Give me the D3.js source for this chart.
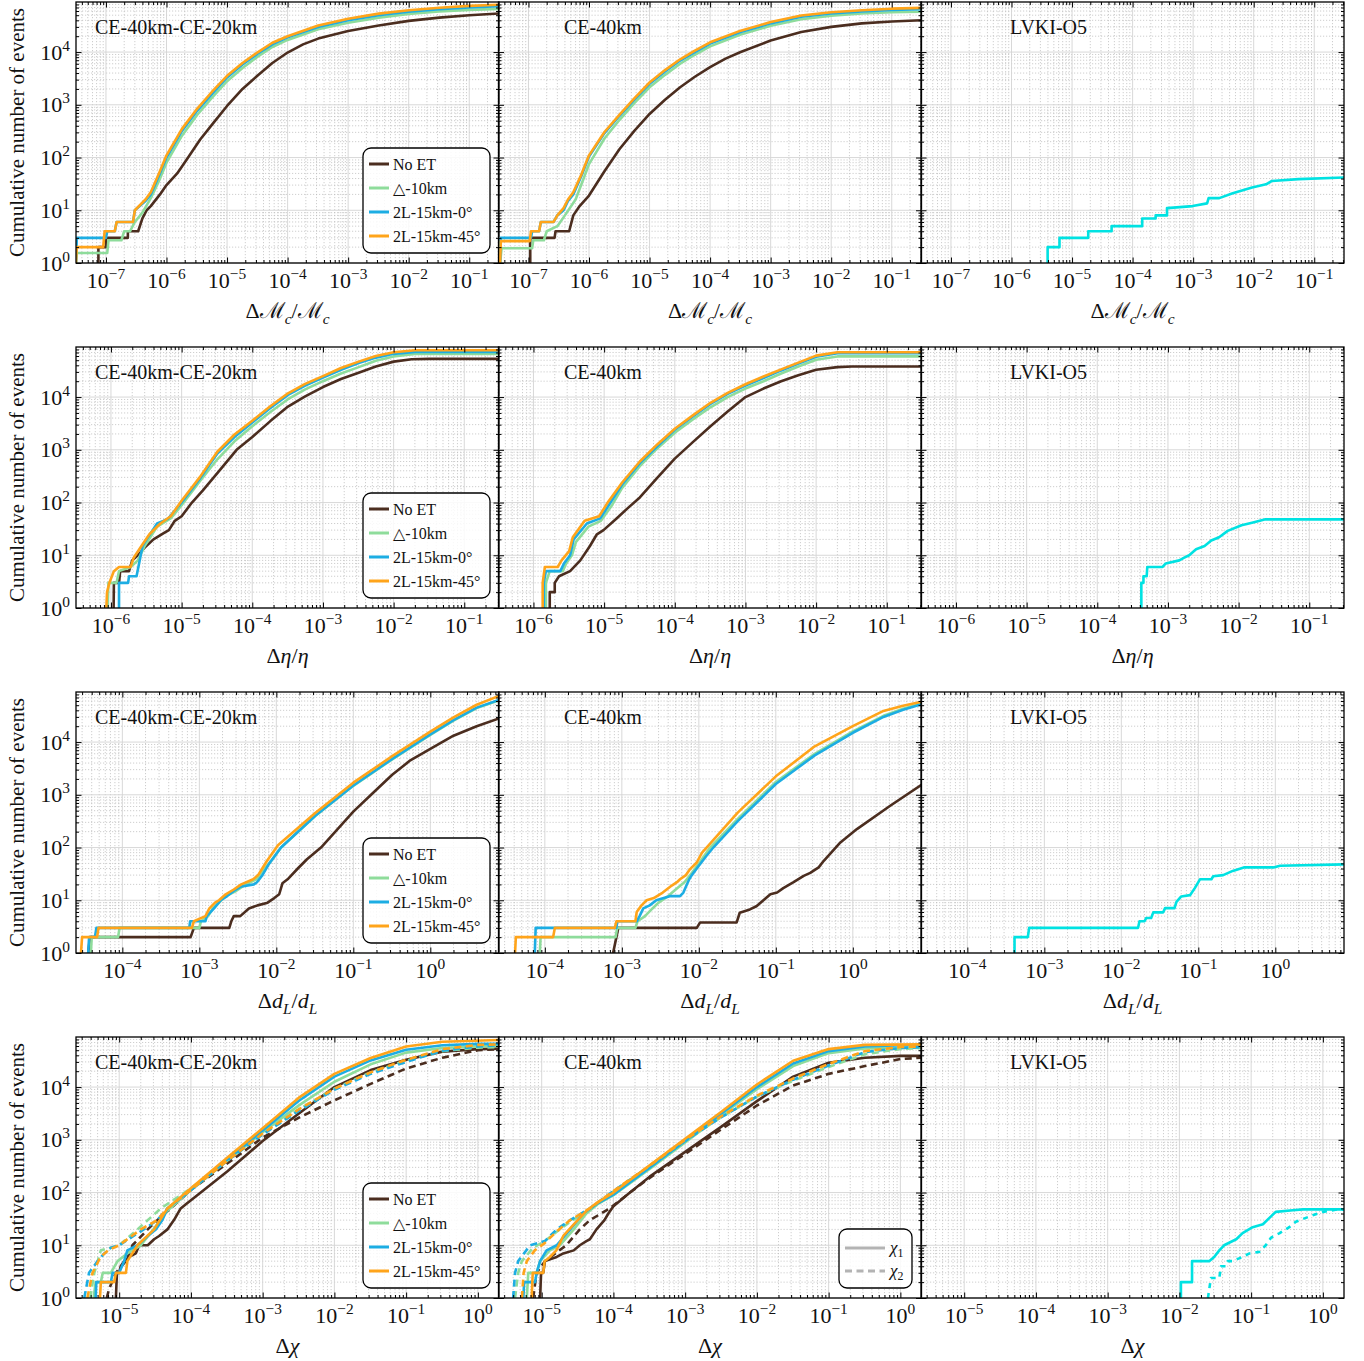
<!DOCTYPE html>
<html>
<head>
<meta charset="utf-8">
<script src="https://cdn.jsdelivr.net/npm/d3@7"></script>
<style>
  body { margin: 0; background: #fff; }
  text { font-family: "Liberation Serif", "DejaVu Serif", serif; fill: #111; }
</style>
</head>
<body>
<svg id="fig" width="1364" height="1361"></svg>
<script>
// ---- labels ----
var panelNames = ["CE-40km-CE-20km", "CE-40km", "LVKI-O5"];
var seriesNames = ["No ET", "\u25B3-10km", "2L-15km-0\u00B0", "2L-15km-45\u00B0"];
var chiNames = ["1", "2"];

// ---- row 1 : dMc/Mc  [x, cumulative N] ----
var mc_a_noet = [[7.5e-8,1],[7.5e-8,2],[1.0e-7,2],[1.0e-7,3],[2.3e-7,3],[2.3e-7,4],[3.4e-7,4],[4.0e-7,7],[4.7e-7,10],[5.5e-7,12],[7.8e-7,20],[1.0e-6,30],[1.5e-6,50],[2.2e-6,95],[3.6e-6,220],[6.0e-6,460],[1.0e-5,950],[1.8e-5,2000],[3.2e-5,3600],[5.6e-5,6200],[1.0e-4,9800],[1.8e-4,1.4e4],[3.2e-4,1.8e4],[1.0e-3,2.5e4],[3.2e-3,3.2e4],[1.0e-2,3.9e4],[3.2e-2,4.5e4],[0.1,5.0e4],[0.31,5.4e4]];
var mc_a_tri = [[3.2e-8,1],[3.3e-8,1.55],[1.05e-7,1.55],[1.1e-7,2.7],[1.8e-7,2.7],[2.0e-7,4],[2.5e-7,4],[3.0e-7,6],[4.0e-7,9],[5.5e-7,17],[7.5e-7,36],[1.0e-6,80],[1.8e-6,260],[3.2e-6,640],[5.6e-6,1350],[1.0e-5,2800],[1.8e-5,5000],[3.2e-5,8200],[5.6e-5,1.25e4],[1.0e-4,1.7e4],[3.2e-4,2.7e4],[1.0e-3,3.6e4],[3.2e-3,4.5e4],[1.0e-2,5.3e4],[3.2e-2,5.9e4],[0.1,6.3e4],[0.31,6.6e4]];
var mc_a_l0 = [[3.2e-8,1],[3.3e-8,3],[1.0e-7,3],[1.05e-7,4],[1.4e-7,4],[1.5e-7,6],[2.8e-7,6],[3.0e-7,10],[4.5e-7,15],[5.5e-7,20],[7.5e-7,45],[1.0e-6,100],[1.8e-6,320],[3.2e-6,770],[5.6e-6,1600],[1.0e-5,3300],[1.8e-5,5800],[3.2e-5,9300],[5.6e-5,1.4e4],[1.0e-4,1.9e4],[3.2e-4,3.0e4],[1.0e-3,4.0e4],[3.2e-3,5.0e4],[1.0e-2,5.8e4],[3.2e-2,6.5e4],[0.1,7.0e4],[0.31,7.4e4]];
var mc_a_l45 = [[3.2e-8,1],[3.3e-8,2],[9.0e-8,2],[9.5e-8,4],[1.4e-7,4],[1.5e-7,6],[2.8e-7,6],[3.0e-7,10],[4.5e-7,16],[5.5e-7,22],[7.5e-7,50],[1.0e-6,110],[1.8e-6,350],[3.2e-6,840],[5.6e-6,1750],[1.0e-5,3550],[1.8e-5,6200],[3.2e-5,9900],[5.6e-5,1.5e4],[1.0e-4,2.0e4],[3.2e-4,3.2e4],[1.0e-3,4.3e4],[3.2e-3,5.35e4],[1.0e-2,6.2e4],[3.2e-2,6.9e4],[0.1,7.5e4],[0.31,7.9e4]];
var mc_b_noet = [[1.07e-7,1],[1.07e-7,3],[2.7e-7,3],[2.8e-7,4],[4.7e-7,4],[5.5e-7,8],[7.0e-7,12],[1.0e-6,19],[1.8e-6,55],[3.2e-6,145],[5.6e-6,320],[1.0e-5,670],[1.8e-5,1250],[3.2e-5,2150],[5.6e-5,3400],[1.0e-4,5200],[1.8e-4,7500],[3.2e-4,1.0e4],[1.0e-3,1.66e4],[3.2e-3,2.4e4],[1.0e-2,3.0e4],[3.2e-2,3.5e4],[0.1,3.8e4],[0.31,4.0e4]];
var mc_b_tri = [[3.4e-8,1],[3.6e-8,1.9],[1.15e-7,1.9],[1.2e-7,2.7],[1.8e-7,2.7],[2.0e-7,4],[3.0e-7,5],[4.0e-7,8],[6.0e-7,16],[8.0e-7,38],[1.0e-6,75],[1.8e-6,230],[3.2e-6,520],[5.6e-6,1080],[1.0e-5,2150],[1.8e-5,3700],[3.2e-5,6000],[5.6e-5,8900],[1.0e-4,1.28e4],[3.2e-4,2.15e4],[1.0e-3,3.15e4],[3.2e-3,4.2e4],[1.0e-2,4.9e4],[3.2e-2,5.4e4],[0.1,5.7e4],[0.31,5.8e4]];
var mc_b_l0 = [[3.4e-8,1],[3.5e-8,3],[1.1e-7,3],[1.15e-7,4],[1.5e-7,4],[1.6e-7,6],[2.6e-7,6],[3.0e-7,8],[3.8e-7,10],[4.5e-7,15],[5.5e-7,20],[7.5e-7,45],[1.0e-6,105],[1.8e-6,290],[3.2e-6,620],[5.6e-6,1250],[1.0e-5,2500],[1.8e-5,4300],[3.2e-5,6900],[5.6e-5,1.0e4],[1.0e-4,1.45e4],[3.2e-4,2.4e4],[1.0e-3,3.5e4],[3.2e-3,4.7e4],[1.0e-2,5.4e4],[3.2e-2,5.9e4],[0.1,6.3e4],[0.31,6.5e4]];
var mc_b_l45 = [[3.4e-8,1],[3.5e-8,2.6],[1.05e-7,2.6],[1.1e-7,4],[1.5e-7,4],[1.6e-7,6],[2.6e-7,6],[3.0e-7,8],[3.8e-7,11],[4.5e-7,16],[5.5e-7,22],[7.5e-7,48],[1.0e-6,110],[1.8e-6,305],[3.2e-6,650],[5.6e-6,1320],[1.0e-5,2650],[1.8e-5,4550],[3.2e-5,7300],[5.6e-5,1.06e4],[1.0e-4,1.53e4],[3.2e-4,2.55e4],[1.0e-3,3.7e4],[3.2e-3,4.95e4],[1.0e-2,5.7e4],[3.2e-2,6.2e4],[0.1,6.65e4],[0.31,6.9e4]];
var mc_c_lvk = [[3.95e-6,1],[3.95e-6,2],[6.2e-6,2],[6.2e-6,3],[1.85e-5,3],[1.85e-5,4],[4.5e-5,4],[4.5e-5,5],[1.44e-4,5],[1.44e-4,7],[2.4e-4,7],[2.4e-4,8],[3.7e-4,8],[3.7e-4,11],[9.8e-4,12],[1.7e-3,13.5],[1.8e-3,17],[2.7e-3,17],[4.5e-3,21],[9.4e-3,27],[1.6e-2,31],[2.0e-2,36],[5.5e-2,39],[0.31,41.7]];

// ---- row 2 : deta/eta ----
var eta_a_noet = [[1.09e-6,1],[1.1e-6,3],[1.3e-6,3],[1.35e-6,5],[1.8e-6,5],[2.0e-6,8],[2.4e-6,10],[3.0e-6,14],[4.0e-6,20],[5.5e-6,26],[6.6e-6,30],[8.0e-6,45],[1.0e-5,55],[1.4e-5,100],[2.0e-5,170],[3.2e-5,360],[6.0e-5,1000],[1.0e-4,1750],[1.8e-4,3500],[3.2e-4,6600],[5.6e-4,1.03e4],[1.0e-3,1.55e4],[1.8e-3,2.2e4],[3.2e-3,2.9e4],[5.6e-3,3.8e4],[1.0e-2,4.7e4],[1.8e-2,5.2e4],[3.2e-2,5.3e4],[0.31,5.3e4]];
var eta_a_tri = [[9.0e-7,1],[9.2e-7,3],[1.2e-6,3],[1.3e-6,5],[1.9e-6,6],[2.4e-6,8],[3.0e-6,15],[4.5e-6,35],[7.0e-6,50],[1.0e-5,89],[1.8e-5,250],[3.2e-5,660],[5.6e-5,1450],[1.0e-4,2800],[1.8e-4,5200],[3.2e-4,9100],[5.6e-4,1.4e4],[1.0e-3,2.0e4],[1.8e-3,2.8e4],[3.2e-3,3.7e4],[5.6e-3,4.9e4],[1.0e-2,5.9e4],[2.0e-2,6.6e4],[0.31,6.6e4]];
var eta_a_l0 = [[1.3e-6,1],[1.3e-6,3],[1.75e-6,3],[1.8e-6,4],[2.3e-6,4],[2.5e-6,7],[2.8e-6,15],[3.2e-6,20],[4.5e-6,40],[5.5e-6,45],[6.5e-6,50],[8.0e-6,70],[1.0e-5,100],[1.8e-5,280],[3.2e-5,850],[5.6e-5,1750],[1.0e-4,3300],[1.8e-4,6200],[3.2e-4,1.1e4],[5.6e-4,1.65e4],[1.0e-3,2.35e4],[1.8e-3,3.3e4],[3.2e-3,4.4e4],[5.6e-3,5.6e4],[1.0e-2,6.6e4],[2.0e-2,7.2e4],[0.31,7.2e4]];
var eta_a_l45 = [[8.6e-7,1],[8.8e-7,2],[9.5e-7,3],[1.1e-6,5],[1.3e-6,6],[1.9e-6,6],[2.1e-6,9],[2.7e-6,15],[3.5e-6,25],[5.0e-6,40],[7.0e-6,55],[1.0e-5,108],[1.8e-5,300],[3.2e-5,920],[5.6e-5,1950],[1.0e-4,3550],[1.8e-4,6700],[3.2e-4,1.18e4],[5.6e-4,1.78e4],[1.0e-3,2.5e4],[1.8e-3,3.55e4],[3.2e-3,4.7e4],[5.6e-3,6.0e4],[1.0e-2,7.1e4],[2.0e-2,7.7e4],[0.31,7.7e4]];
var eta_b_noet = [[1.7e-6,1],[1.7e-6,2],[2.0e-6,2],[2.0e-6,3],[2.3e-6,4],[3.3e-6,5],[4.6e-6,8],[6.3e-6,15],[7.9e-6,25],[9.8e-6,30],[1.5e-5,50],[2.2e-5,80],[3.2e-5,125],[5.6e-5,290],[1.0e-4,680],[1.8e-4,1400],[3.2e-4,2800],[5.6e-4,5300],[1.0e-3,1.0e4],[1.8e-3,1.45e4],[3.2e-3,2.0e4],[5.6e-3,2.6e4],[1.0e-2,3.3e4],[2.0e-2,3.7e4],[3.2e-2,3.8e4],[0.31,3.8e4]];
var eta_b_tri = [[1.5e-6,1],[1.5e-6,3],[1.7e-6,5],[2.6e-6,5],[2.9e-6,7],[3.5e-6,10],[4.0e-6,18],[6.0e-6,35],[9.0e-6,45],[1.3e-5,90],[1.8e-5,190],[3.2e-5,490],[5.6e-5,1050],[1.0e-4,2100],[1.8e-4,3750],[3.2e-4,6400],[5.6e-4,1.0e4],[1.0e-3,1.45e4],[1.8e-3,2.0e4],[3.2e-3,2.8e4],[5.6e-3,3.8e4],[1.0e-2,5.1e4],[2.0e-2,5.9e4],[0.31,5.9e4]];
var eta_b_l0 = [[1.4e-6,1],[1.4e-6,3],[1.5e-6,5],[2.4e-6,5],[2.7e-6,7],[3.3e-6,10],[3.7e-6,20],[5.7e-6,40],[8.8e-6,50],[1.23e-5,100],[1.8e-5,220],[3.2e-5,560],[5.6e-5,1150],[1.0e-4,2400],[1.8e-4,4300],[3.2e-4,7400],[5.6e-4,1.15e4],[1.0e-3,1.66e4],[1.8e-3,2.3e4],[3.2e-3,3.2e4],[5.6e-3,4.3e4],[1.0e-2,5.8e4],[2.0e-2,6.8e4],[0.31,6.8e4]];
var eta_b_l45 = [[1.35e-6,1],[1.35e-6,3],[1.45e-6,6],[2.2e-6,6],[2.5e-6,8],[3.2e-6,12],[3.6e-6,22],[5.3e-6,45],[8.5e-6,55],[1.15e-5,105],[1.8e-5,240],[3.2e-5,600],[5.6e-5,1250],[1.0e-4,2500],[1.8e-4,4500],[3.2e-4,7800],[5.6e-4,1.2e4],[1.0e-3,1.75e4],[1.8e-3,2.45e4],[3.2e-3,3.35e4],[5.6e-3,4.5e4],[1.0e-2,6.1e4],[2.0e-2,7.1e4],[0.31,7.1e4]];
var eta_c_lvk = [[4.2e-4,1],[4.2e-4,3],[4.5e-4,3],[4.5e-4,4],[5.0e-4,4],[5.1e-4,6],[8.4e-4,6],[9.3e-4,7],[1.45e-3,8],[1.7e-3,9],[2.0e-3,10],[2.5e-3,13],[3.3e-3,15],[4.1e-3,19],[5.3e-3,22],[7.0e-3,29],[1.1e-2,37],[1.6e-2,42],[2.4e-2,48],[0.31,48]];

// ---- row 3 : ddL/dL ----
var dl_a_noet = [[3.6e-5,1],[3.8e-5,2],[7.7e-4,2],[8.5e-4,3],[2.45e-3,3],[2.6e-3,4],[2.8e-3,5],[3.4e-3,5],[4.4e-3,7],[5.7e-3,8],[7.7e-3,9],[9.4e-3,11],[1.09e-2,13],[1.2e-2,21],[1.4e-2,25],[1.9e-2,40],[2.5e-2,60],[3.8e-2,100],[0.1,480],[0.17,1000],[0.32,2400],[0.55,4500],[1.0,7400],[2.0,1.32e4],[4.0,2.0e4],[7.8,2.8e4]];
var dl_a_tri = [[3.9e-5,1],[4.0e-5,2],[8.8e-5,2],[9.2e-5,3],[1.0e-3,3],[1.05e-3,4],[1.3e-3,5],[1.5e-3,7],[1.8e-3,9],[2.2e-3,12],[3.0e-3,15],[4.0e-3,20],[5.5e-3,25],[7.0e-3,40],[8.5e-3,55],[1.15e-2,100],[3.2e-2,395],[0.1,1480],[0.32,4700],[1.0,1.37e4],[2.0,2.55e4],[4.0,4.4e4],[7.8,6.2e4]];
var dl_a_l0 = [[3.6e-5,1],[3.7e-5,2],[4.4e-5,2],[4.6e-5,3],[7.4e-4,3],[7.6e-4,4],[1.2e-3,4],[1.25e-3,5],[1.55e-3,7],[1.9e-3,10],[2.3e-3,12],[2.8e-3,15],[3.4e-3,18],[5.1e-3,20],[5.6e-3,22],[6.6e-3,30],[8.1e-3,50],[1.15e-2,100],[3.2e-2,400],[0.1,1500],[0.32,4800],[1.0,1.4e4],[2.0,2.6e4],[4.0,4.5e4],[7.8,6.3e4]];
var dl_a_l45 = [[2.9e-5,1],[3.0e-5,2],[4.7e-5,2],[4.9e-5,3],[8.0e-4,3],[8.5e-4,4],[1.2e-3,5],[1.35e-3,7],[1.6e-3,9],[1.8e-3,10],[2.2e-3,13],[2.8e-3,16],[3.5e-3,20],[5.0e-3,25],[5.8e-3,30],[7.5e-3,55],[1.05e-2,110],[3.2e-2,450],[0.1,1700],[0.32,5400],[1.0,1.58e4],[2.0,2.95e4],[4.0,5.1e4],[7.8,7.5e4]];
var dl_b_noet = [[7.7e-4,1],[8.5e-4,2],[9.0e-4,3],[9.4e-3,3],[1.04e-2,3.8],[3.1e-2,3.8],[3.4e-2,5.8],[4.6e-2,6.7],[5.6e-2,7.7],[6.9e-2,10],[8.5e-2,13],[0.104,14],[0.125,17],[0.17,22],[0.23,29],[0.28,33],[0.36,42],[0.42,56],[0.69,125],[1.13,224],[3.06,620],[7.8,1550]];
var dl_b_tri = [[8.6e-5,1],[8.8e-5,2],[8.3e-4,2],[8.7e-4,3],[1.5e-3,3],[1.6e-3,4],[2.0e-3,5],[2.5e-3,7],[3.0e-3,9],[4.0e-3,12],[5.0e-3,16],[6.5e-3,22],[8.0e-3,32],[1.0e-2,50],[1.4e-2,100],[3.2e-2,350],[0.1,1750],[0.32,6000],[1.0,1.6e4],[2.5,3.15e4],[4.5,4.3e4],[7.8,5.4e4]];
var dl_b_l0 = [[7.4e-5,1],[7.6e-5,3],[8.5e-4,3],[8.7e-4,4],[1.56e-3,4],[1.7e-3,5],[1.9e-3,7],[2.3e-3,8],[2.8e-3,10],[3.5e-3,11],[4.3e-3,12],[5.7e-3,12],[6.3e-3,14],[6.9e-3,19],[7.5e-3,25],[8.1e-3,30],[1.0e-2,45],[1.25e-2,69],[1.54e-2,100],[3.2e-2,316],[0.1,1600],[0.32,5600],[1.0,1.5e4],[2.5,3.0e4],[4.5,4.1e4],[7.8,5.2e4]];
var dl_b_l45 = [[4.1e-5,1],[4.2e-5,2],[1.28e-4,2],[1.35e-4,3],[8.1e-4,3],[8.5e-4,4],[1.5e-3,4],[1.56e-3,6],[1.8e-3,8],[2.1e-3,10],[2.6e-3,11],[3.4e-3,14],[4.45e-3,19],[5.2e-3,22],[5.7e-3,25],[6.8e-3,30],[7.7e-3,39],[9.4e-3,52],[1.1e-2,80],[1.26e-2,100],[3.2e-2,460],[0.1,2240],[0.32,8300],[1.0,2.0e4],[2.5,3.9e4],[4.5,4.9e4],[7.8,5.8e4]];
var dl_c_lvk = [[4.1e-4,1],[4.1e-4,2],[6.1e-4,2],[6.35e-4,3],[1.65e-2,3],[1.72e-2,4],[2.0e-2,4],[2.1e-2,4.6],[2.44e-2,4.6],[2.6e-2,5.9],[3.5e-2,5.9],[3.7e-2,7.1],[4.9e-2,7.1],[5.2e-2,9.3],[6.0e-2,11.8],[7.8e-2,12.5],[9.0e-2,17],[0.105,25],[0.148,25],[0.156,28.5],[0.21,30],[0.28,36],[0.39,42],[0.95,42],[1.15,45],[7.8,48]];

// ---- row 4 : dchi (1 = chi_1 solid, 2 = chi_2 dashed) ----
var chi_a_noet1 = [[9.0e-6,1],[9.3e-6,3],[1.0e-5,3],[1.05e-5,4],[1.17e-5,5],[1.38e-5,6],[1.7e-5,7],[1.9e-5,10],[2.5e-5,10],[3.07e-5,13],[3.6e-5,15],[4.7e-5,20],[5.8e-5,30],[7.2e-5,50],[8.5e-5,60],[1.37e-4,100],[3.2e-4,250],[1.0e-3,950],[3.2e-3,3160],[1.0e-2,1.0e4],[3.2e-2,2.1e4],[0.1,3.3e4],[0.32,4.7e4],[1.0,5.25e4],[1.97,5.35e4]];
var chi_a_noet2 = [[6.7e-6,1],[7.25e-6,1.5],[9.0e-6,3],[1.24e-5,5],[1.53e-5,10],[2.5e-5,20],[3.4e-5,30],[5.2e-5,50],[1.0e-4,112],[3.2e-4,355],[1.0e-3,1100],[3.2e-3,2630],[1.0e-2,5600],[3.2e-2,1.15e4],[0.1,2.25e4],[0.32,3.6e4],[1.0,5.0e4],[1.97,5.25e4]];
var chi_a_tri1 = [[4.4e-6,1],[4.7e-6,2],[5.55e-6,2],[5.9e-6,3],[7.65e-6,3],[9.5e-6,5],[1.3e-5,7],[2.0e-5,10],[3.0e-5,20],[4.7e-5,45],[1.0e-4,112],[3.2e-4,400],[1.0e-3,1400],[3.2e-3,4500],[1.0e-2,1.26e4],[3.2e-2,2.7e4],[0.1,4.5e4],[0.32,5.5e4],[1.0,5.9e4],[1.97,6.0e4]];
var chi_a_tri2 = [[3.95e-6,1],[4.5e-6,3],[5.55e-6,8],[7.65e-6,9],[1.0e-5,10],[1.8e-5,20],[3.8e-5,50],[1.0e-4,120],[3.2e-4,417],[1.0e-3,1350],[3.2e-3,3800],[1.0e-2,9300],[3.2e-2,1.9e4],[0.1,3.16e4],[0.32,4.8e4],[1.0,5.6e4],[1.97,5.75e4]];
var chi_a_l01 = [[4.7e-6,1],[4.8e-6,2],[7.65e-6,2],[8.1e-6,3],[1.0e-5,3],[1.17e-5,5],[1.3e-5,8],[1.8e-5,10],[2.5e-5,15],[3.24e-5,20],[4.0e-5,30],[4.7e-5,50],[1.0e-4,112],[3.2e-4,420],[1.0e-3,1500],[3.2e-3,5500],[1.0e-2,1.58e4],[3.2e-2,3.2e4],[0.1,5.1e4],[0.32,6.2e4],[1.0,6.6e4],[1.97,6.6e4]];
var chi_a_l02 = [[3.26e-6,1],[3.8e-6,3],[5.0e-6,5],[6.2e-6,7],[7.65e-6,9],[1.0e-5,10],[2.2e-5,20],[3.4e-5,30],[4.7e-5,50],[1.0e-4,112],[3.2e-4,400],[1.0e-3,1260],[3.2e-3,3550],[1.0e-2,8900],[3.2e-2,1.78e4],[0.1,3.0e4],[0.32,4.9e4],[1.0,5.9e4],[1.97,6.2e4]];
var chi_a_l451 = [[5.4e-6,1],[5.55e-6,2],[8.5e-6,2],[9.0e-6,3],[1.24e-5,3],[1.3e-5,5],[1.8e-5,10],[3.07e-5,20],[4.7e-5,50],[1.0e-4,120],[3.2e-4,457],[1.0e-3,1660],[3.2e-3,6300],[1.0e-2,1.78e4],[3.2e-2,3.55e4],[0.1,5.9e4],[0.32,7.25e4],[1.97,7.8e4]];
var chi_a_l452 = [[3.6e-6,1],[4.25e-6,3],[5.5e-6,6],[7.0e-6,8],[1.0e-5,10],[2.0e-5,20],[3.4e-5,30],[4.7e-5,50],[1.0e-4,112],[3.2e-4,400],[1.0e-3,1320],[3.2e-3,3800],[1.0e-2,9300],[3.2e-2,1.9e4],[0.1,3.3e4],[0.32,5.25e4],[1.0,6.3e4],[1.97,6.45e4]];
var chi_b_noet1 = [[9.5e-6,1],[9.8e-6,3],[1.05e-5,3],[1.11e-5,5],[1.62e-5,6],[2.0e-5,7],[2.8e-5,8],[3.4e-5,10],[4.2e-5,12],[4.7e-5,13],[5.8e-5,20],[7.5e-5,30],[8.5e-5,40],[1.0e-4,55],[1.7e-4,100],[3.2e-4,200],[1.0e-3,590],[3.2e-3,1780],[1.0e-2,5400],[3.2e-2,1.58e4],[0.1,2.9e4],[0.32,3.6e4],[1.0,3.9e4],[1.97,3.9e4]];
var chi_b_noet2 = [[7.6e-6,1],[8.5e-6,3],[1.11e-5,5],[2.2e-5,10],[3.4e-5,20],[4.7e-5,30],[8.9e-5,50],[1.7e-4,100],[3.2e-4,190],[1.0e-3,540],[3.2e-3,1580],[1.0e-2,4470],[3.2e-2,1.07e4],[0.1,1.78e4],[0.32,2.5e4],[1.0,3.4e4],[1.97,3.6e4]];
var chi_b_tri1 = [[6.2e-6,1],[6.5e-6,3],[8.5e-6,3],[9.5e-6,5],[1.3e-5,8],[1.8e-5,10],[2.8e-5,20],[4.2e-5,40],[6.0e-5,60],[1.0e-4,89],[3.2e-4,280],[1.0e-3,890],[3.2e-3,2950],[1.0e-2,9100],[3.2e-2,2.5e4],[0.1,4.4e4],[0.32,5.4e4],[1.97,5.6e4]];
var chi_b_tri2 = [[4.25e-6,1],[4.7e-6,3],[5.3e-6,5],[7.6e-6,9],[1.1e-5,12],[1.62e-5,18],[2.5e-5,28],[4.7e-5,48],[1.0e-4,105],[3.2e-4,316],[1.0e-3,955],[3.2e-3,2700],[1.0e-2,6600],[3.2e-2,1.32e4],[0.1,2.4e4],[0.32,4.2e4],[1.0,5.25e4],[1.97,5.5e4]];
var chi_b_l01 = [[5.55e-6,1],[5.7e-6,2],[8.1e-6,2],[8.5e-6,3],[9.5e-6,5],[1.17e-5,8],[1.62e-5,10],[2.5e-5,20],[3.8e-5,40],[5.8e-5,60],[1.0e-4,91],[3.2e-4,295],[1.0e-3,955],[3.2e-3,3160],[1.0e-2,1.0e4],[3.2e-2,2.8e4],[0.1,4.8e4],[0.32,5.9e4],[1.0,6.2e4],[1.97,6.2e4]];
var chi_b_l02 = [[4.0e-6,1],[4.25e-6,3],[4.7e-6,5],[6.9e-6,10],[1.11e-5,12],[1.62e-5,20],[2.5e-5,30],[4.7e-5,50],[1.0e-4,107],[3.2e-4,316],[1.0e-3,955],[3.2e-3,2700],[1.0e-2,6600],[3.2e-2,1.38e4],[0.1,2.57e4],[0.32,4.6e4],[1.0,5.5e4],[1.97,5.75e4]];
var chi_b_l451 = [[7.25e-6,1],[7.5e-6,3],[1.05e-5,3],[1.1e-5,5],[1.3e-5,6],[1.6e-5,8],[2.0e-5,15],[2.8e-5,25],[4.2e-5,45],[6.0e-5,65],[1.0e-4,100],[3.2e-4,330],[1.0e-3,1050],[3.2e-3,3400],[1.0e-2,1.12e4],[3.2e-2,3.16e4],[0.1,5.25e4],[0.32,6.3e4],[1.97,6.45e4]];
var chi_b_l452 = [[5.3e-6,1],[5.6e-6,3],[6.2e-6,5],[8.0e-6,8],[1.1e-5,11],[1.6e-5,18],[2.5e-5,30],[4.7e-5,50],[1.0e-4,107],[3.2e-4,324],[1.0e-3,1000],[3.2e-3,2820],[1.0e-2,6900],[3.2e-2,1.45e4],[0.1,2.75e4],[0.32,4.8e4],[1.0,5.75e4],[1.97,5.9e4]];
var chi_c_lvk1 = [[1.05e-2,1],[1.05e-2,2],[1.5e-2,2],[1.5e-2,5],[2.6e-2,5],[3.05e-2,6],[3.6e-2,8],[4.2e-2,10],[6.2e-2,13],[7.6e-2,17],[0.105,22],[0.146,25],[0.18,33],[0.22,43],[0.38,46],[0.53,48],[1.97,48]];
var chi_c_lvk2 = [[2.5e-2,1],[2.75e-2,2.4],[3.6e-2,2.4],[3.8e-2,4],[4.4e-2,4],[4.7e-2,5],[5.5e-2,5],[6.9e-2,5.7],[9.5e-2,7],[0.13,7.5],[0.16,10],[0.19,14],[0.25,17],[0.34,22],[0.42,28],[0.72,37],[1.0,43],[1.5,47],[1.97,47]];

// ---- axis ranges ----
var yDomain = [1, 8.9e4];
var xDomains = [[3.2e-8, 0.31], [3.2e-7, 0.31], [2.5e-5, 7.8], [2.5e-6, 1.97]];

// ---- layout / style ----
var colLeft = [76, 498.5, 921];
var rowTop = [2, 347, 692, 1037];
var pw = 423, ph = 261;
var ceColors = ["#4b2d1f", "#8edc9b", "#1cade3", "#ffa41a"];
var lvkColor = "#00e2e2";
var fontMain = 22;

var svg = d3.select("#fig");
var yScale = d3.scaleLog().domain(yDomain).range([ph, 0]);

function decades(domain) {
  var lo = Math.floor(Math.log10(domain[0]) + 1e-9), hi = Math.ceil(Math.log10(domain[1]) - 1e-9);
  var major = [], minor = [];
  for (var k = lo; k <= hi; k++) {
    for (var m = 1; m <= 9; m++) {
      var v = m * Math.pow(10, k);
      if (v < domain[0] * 0.9999 || v > domain[1] * 1.0001) continue;
      if (m === 1) major.push(v); else minor.push(v);
    }
  }
  return {major: major, minor: minor};
}

// write text built of parts {t, sub, sup, it}
function mathText(sel, parts, size) {
  var shift = 0;
  parts.forEach(function(p) {
    var target = p.sub ? size * 0.25 : (p.sup ? -size * 0.4 : 0);
    var ts = sel.append("tspan").attr("dy", target - shift).text(p.t);
    shift = target;
    if (p.sub || p.sup) ts.attr("font-size", size * 0.7);
    if (p.it) ts.attr("font-style", "italic");
  });
}

function powParts(v) {
  var k = Math.round(Math.log10(v));
  return [{t: "10"}, {t: (k < 0 ? "\u2212" + (-k) : String(k)), sup: true}];
}

var xLabels = [
  [{t: "\u0394\u2133"}, {t: "c", sub: true, it: true}, {t: "/\u2133"}, {t: "c", sub: true, it: true}],
  [{t: "\u0394"}, {t: "\u03B7", it: true}, {t: "/"}, {t: "\u03B7", it: true}],
  [{t: "\u0394"}, {t: "d", it: true}, {t: "L", sub: true, it: true}, {t: "/"}, {t: "d", it: true}, {t: "L", sub: true, it: true}],
  [{t: "\u0394"}, {t: "\u03C7", it: true}]
];

function ceSet(list) {
  return list.map(function(d, i) { return {data: d, color: ceColors[i], dash: null}; });
}
function ceChiSet(solid, dashed) {
  var out = [];
  solid.forEach(function(d, i) {
    out.push({data: d, color: ceColors[i], dash: null});
    out.push({data: dashed[i], color: ceColors[i], dash: "7,4.5"});
  });
  return out;
}

var rows = [
  [ceSet([mc_a_noet, mc_a_tri, mc_a_l0, mc_a_l45]), ceSet([mc_b_noet, mc_b_tri, mc_b_l0, mc_b_l45]), [{data: mc_c_lvk, color: lvkColor}]],
  [ceSet([eta_a_noet, eta_a_tri, eta_a_l0, eta_a_l45]), ceSet([eta_b_noet, eta_b_tri, eta_b_l0, eta_b_l45]), [{data: eta_c_lvk, color: lvkColor}]],
  [ceSet([dl_a_noet, dl_a_tri, dl_a_l0, dl_a_l45]), ceSet([dl_b_noet, dl_b_tri, dl_b_l0, dl_b_l45]), [{data: dl_c_lvk, color: lvkColor}]],
  [ceChiSet([chi_a_noet1, chi_a_tri1, chi_a_l01, chi_a_l451], [chi_a_noet2, chi_a_tri2, chi_a_l02, chi_a_l452]),
   ceChiSet([chi_b_noet1, chi_b_tri1, chi_b_l01, chi_b_l451], [chi_b_noet2, chi_b_tri2, chi_b_l02, chi_b_l452]),
   [{data: chi_c_lvk1, color: lvkColor}, {data: chi_c_lvk2, color: lvkColor, dash: "5,5"}]]
];

var nameOffset = [19, 65.5, 89];

rows.forEach(function(row, r) {
  var xd = xDomains[r];
  var ticksX = decades(xd);
  var ticksY = decades(yDomain);

  row.forEach(function(series, c) {
    var g = svg.append("g").attr("transform", "translate(" + colLeft[c] + "," + rowTop[r] + ")");
    var x = d3.scaleLog().domain(xd).range([0, pw]);
    var clipId = "clip" + r + c;
    g.append("clipPath").attr("id", clipId).append("rect").attr("width", pw).attr("height", ph);

    // grid
    var grid = g.append("g");
    grid.selectAll(".gxm").data(ticksX.minor).join("line")
      .attr("x1", function(d) { return x(d); }).attr("x2", function(d) { return x(d); })
      .attr("y1", 0).attr("y2", ph)
      .attr("stroke", "#b9b9b9").attr("stroke-width", 0.7).attr("stroke-dasharray", "1.2,1.8");
    grid.selectAll(".gym").data(ticksY.minor).join("line")
      .attr("y1", function(d) { return yScale(d); }).attr("y2", function(d) { return yScale(d); })
      .attr("x1", 0).attr("x2", pw)
      .attr("stroke", "#b9b9b9").attr("stroke-width", 0.7).attr("stroke-dasharray", "1.2,1.8");
    grid.selectAll(".gxM").data(ticksX.major).join("line")
      .attr("x1", function(d) { return x(d); }).attr("x2", function(d) { return x(d); })
      .attr("y1", 0).attr("y2", ph)
      .attr("stroke", "#d4d4d4").attr("stroke-width", 0.9);
    grid.selectAll(".gyM").data(ticksY.major).join("line")
      .attr("y1", function(d) { return yScale(d); }).attr("y2", function(d) { return yScale(d); })
      .attr("x1", 0).attr("x2", pw)
      .attr("stroke", "#d4d4d4").attr("stroke-width", 0.9);

    // curves
    var line = d3.line().x(function(d) { return x(d[0]); }).y(function(d) { return yScale(d[1]); });
    g.append("g").attr("clip-path", "url(#" + clipId + ")")
      .selectAll("path").data(series).join("path")
      .attr("d", function(s) { return line(s.data); })
      .attr("fill", "none")
      .attr("stroke", function(s) { return s.color; })
      .attr("stroke-width", 2.6)
      .attr("stroke-linejoin", "round")
      .attr("stroke-dasharray", function(s) { return s.dash || null; });

    // ticks, inward on all sides
    function tickAxis(axisFn, vals, len, tr) {
      var a = g.append("g").attr("transform", tr || null)
        .call(axisFn.tickValues(vals).tickSizeInner(-len).tickSizeOuter(0).tickFormat(""));
      a.select(".domain").remove();
      a.selectAll("line").attr("stroke", "#000").attr("stroke-width", 1);
    }
    tickAxis(d3.axisBottom(x), ticksX.major, 5.5, "translate(0," + ph + ")");
    tickAxis(d3.axisBottom(x), ticksX.minor, 3, "translate(0," + ph + ")");
    tickAxis(d3.axisTop(x), ticksX.major, 5.5);
    tickAxis(d3.axisTop(x), ticksX.minor, 3);
    tickAxis(d3.axisLeft(yScale), ticksY.major, 5.5);
    tickAxis(d3.axisLeft(yScale), ticksY.minor, 3);
    tickAxis(d3.axisRight(yScale), ticksY.major, 5.5, "translate(" + pw + ",0)");
    tickAxis(d3.axisRight(yScale), ticksY.minor, 3, "translate(" + pw + ",0)");

    // frame
    g.append("rect").attr("width", pw).attr("height", ph)
      .attr("fill", "none").attr("stroke", "#000").attr("stroke-width", 1.3);

    // x tick labels
    ticksX.major.forEach(function(v) {
      var t = g.append("text").attr("x", x(v)).attr("y", ph + 25)
        .attr("text-anchor", "middle").attr("font-size", fontMain);
      mathText(t, powParts(v), fontMain);
    });

    // y tick labels
    if (c === 0) {
      ticksY.major.forEach(function(v) {
        var t = g.append("text").attr("x", -6).attr("y", yScale(v) + 7.5)
          .attr("text-anchor", "end").attr("font-size", fontMain);
        mathText(t, powParts(v), fontMain);
      });
    }

    // x axis label
    var xl = g.append("text").attr("x", pw / 2).attr("y", ph + 55)
      .attr("text-anchor", "middle").attr("font-size", fontMain);
    mathText(xl, xLabels[r], fontMain);

    // panel name
    g.append("text").attr("x", nameOffset[c]).attr("y", 31.5)
      .attr("font-size", 20).text(panelNames[c]);

    // legends
    if (c === 0) {
      var lg = g.append("g").attr("transform", "translate(" + (pw - 9 - 127) + "," + (ph - 10 - 105) + ")");
      lg.append("rect").attr("width", 127).attr("height", 105).attr("rx", 8)
        .attr("fill", "#fff").attr("fill-opacity", 0.85).attr("stroke", "#000").attr("stroke-width", 1.3);
      seriesNames.forEach(function(nm, i) {
        var yy = 16 + i * 24;
        lg.append("line").attr("x1", 6).attr("x2", 26).attr("y1", yy).attr("y2", yy)
          .attr("stroke", ceColors[i]).attr("stroke-width", 3);
        lg.append("text").attr("x", 30).attr("y", yy + 5.5).attr("font-size", 16).text(nm);
      });
    }
    if (r === 3 && c === 1) {
      var lc = g.append("g").attr("transform", "translate(" + (pw - 9.5 - 73) + "," + (ph - 10 - 59) + ")");
      lc.append("rect").attr("width", 73).attr("height", 59).attr("rx", 8)
        .attr("fill", "#fff").attr("fill-opacity", 0.85).attr("stroke", "#000").attr("stroke-width", 1.3);
      chiNames.forEach(function(nm, i) {
        var yy = 19 + i * 23;
        lc.append("line").attr("x1", 6).attr("x2", 46).attr("y1", yy).attr("y2", yy)
          .attr("stroke", "#b3b3b3").attr("stroke-width", 3)
          .attr("stroke-dasharray", i === 1 ? "7,4.5" : null);
        var t = lc.append("text").attr("x", 51).attr("y", yy + 5).attr("font-size", 17);
        mathText(t, [{t: "\u03C7", it: true}, {t: nm, sub: true}], 17);
      });
    }
  });
});

// shared y label for each row
rowTop.forEach(function(top) {
  svg.append("text")
    .attr("transform", "translate(24," + (top + ph / 2) + ") rotate(-90)")
    .attr("text-anchor", "middle").attr("font-size", 21)
    .text("Cumulative number of events");
});
</script>
</body>
</html>
